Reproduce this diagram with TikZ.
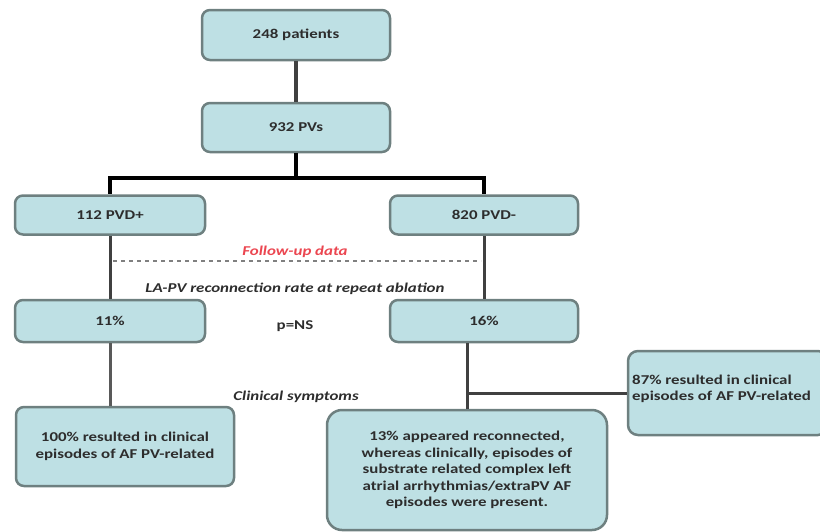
\documentclass[tikz,border=0pt]{standalone}
\usepackage{fontspec}
\setmainfont{Carlito}[FakeStretch=1.25]
\definecolor{boxfill}{RGB}{190,224,228}
\definecolor{boxdraw}{RGB}{110,128,128}
\definecolor{txt}{RGB}{45,45,45}
\definecolor{redtxt}{RGB}{235,70,80}
\tikzset{
  fbox/.style={draw=boxdraw, line width=2.5pt, fill=boxfill, rounded corners=8pt,
    text=txt, font=\fontsize{13.5}{16.5}\selectfont\bfseries, align=center, inner sep=2pt},
  conn/.style={line width=3.5pt, draw=black},
  gconn/.style={line width=3pt, draw=black!75},
  lbl/.style={text=txt, font=\fontsize{13.5}{16.5}\selectfont\bfseries\itshape}
}
\begin{document}
\begin{tikzpicture}[x=1pt,y=-1pt]
\useasboundingbox (0,0) rectangle (820,531);
\node[fbox, minimum width=188pt, minimum height=50pt] (b1) at (296,35) {248 patients};
\node[fbox, minimum width=188pt, minimum height=49pt] (b2) at (296,127.5) {932 PVs};
\node[fbox, minimum width=190pt, minimum height=39pt] (pvdp) at (110,215) {112 PVD+};
\node[fbox, minimum width=188pt, minimum height=39pt] (pvdm) at (484,215) {820 PVD-};
\node[fbox, minimum width=190pt, minimum height=42pt] (s11) at (110,321) {11\%};
\node[fbox, minimum width=188pt, minimum height=42pt] (s16) at (484,321) {16\%};
\node[fbox, minimum width=218pt, minimum height=79pt] (b100) at (125,446.5) {100\% resulted in clinical\\episodes of AF PV-related};
\node[fbox, rounded corners=15pt, minimum width=280pt, minimum height=120pt] (b13) at (467,470)
  {13\% appeared reconnected,\\whereas clinically, episodes of\\substrate related complex left\\atrial arrhythmias/extraPV AF\\episodes were present.};
\node[fbox, rounded corners=10pt, minimum width=200pt, minimum height=84pt] (b87) at (728,393) {};
\node[text=txt, font=\fontsize{13.5}{16.5}\selectfont\bfseries, align=left, anchor=west, inner sep=0pt] (t87) at (632,389) {87\% resulted in clinical\\episodes of AF PV-related};

\node[lbl, text=redtxt] (fu) at (295,252) {Follow-up data};
\node[lbl] (la) at (295,289) {LA-PV reconnection rate at repeat ablation};
\node[lbl, font=\fontsize{13.5}{16.5}\selectfont\bfseries] (pns) at (295,326) {p=NS};
\node[lbl] (cs) at (296,397) {Clinical symptoms};

\coordinate (barL) at (110,178);
\coordinate (barR) at (484,178);
\coordinate (dL) at (113,261);
\coordinate (dR) at (481,261);

\draw[line width=4pt, draw=black!75] (b1.south) -- (b2.north);
\draw[conn] (b2.south) -- (b2.south |- barL);
\draw[conn, line cap=rect] (barL) -- (barR);
\draw[conn] (barL) -- (pvdp.north);
\draw[conn] (barR) -- (pvdm.north);
\draw[draw=black!50, line width=1.5pt, dash pattern=on 4pt off 4pt] (dL) -- (dR);
\draw[gconn] (pvdp.south) -- (s11.north);
\draw[gconn] (pvdm.south) -- (s16.north);
\draw[gconn, draw=black!65] (s11.south) -- (s11.south |- b100.north);
\draw[gconn] (b13.north) -- (b13.north |- s16.south);
\draw[gconn] (b87.west) -- (b87.west -| b13.north);
\end{tikzpicture}
\end{document}
